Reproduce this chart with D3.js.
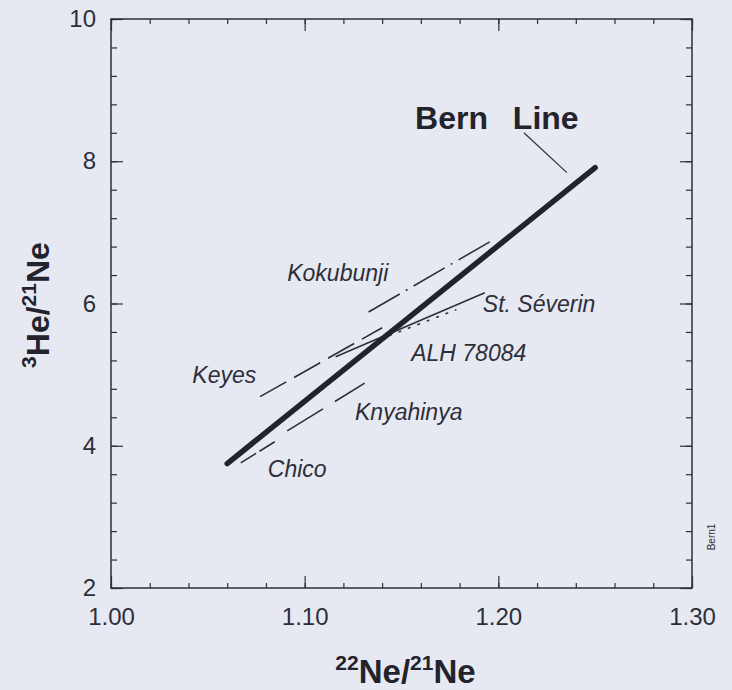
<!DOCTYPE html>
<html>
<head>
<meta charset="utf-8">
<script src="https://cdn.jsdelivr.net/npm/d3@7"></script>
<style>
  html, body { margin: 0; padding: 0; background: #e6e9f1; }
  svg { display: block; font-family: "Liberation Sans", Arial, Helvetica, sans-serif; }
  .frame { fill: none; stroke: #2e2e3a; stroke-width: 1.5; }
  .axis path { display: none; }
  .axis line { stroke: #2e2e3a; stroke-width: 1.2; }
  .axis text { fill: #2e2e3a; font-size: 24px; font-family: "Liberation Sans", Arial, sans-serif; }
  .track { fill: none; stroke: #2e2e3a; stroke-width: 1.6; }
  .name { fill: #2e2e3a; font-size: 23px; font-style: italic; }
</style>
</head>
<body>
<svg id="chart" width="732" height="690"></svg>
<script>
// axis ranges and ticks
const xDomain = [1.0, 1.3];
const yDomain = [2, 10];
const xMajor = [1.0, 1.1, 1.2, 1.3];
const xMinor = d3.range(0, 16).map(i => 1.0 + i * 0.02);
const yMajor = [2, 4, 6, 8, 10];
const yMinor = d3.range(0, 21).map(i => 2 + i * 0.4);

// Bern line (end points)
const bernX = [1.06, 1.25];
const bernY = [3.75, 7.91];

// meteorite trends: start and end points
const names = ["Kokubunji", "St. Séverin", "ALH 78084", "Keyes", "Knyahinya", "Chico"];
const startX = [1.133, 1.116, 1.139, 1.077, 1.091, 1.067];
const startY = [5.88, 5.25, 5.50, 4.69, 4.21, 3.76];
const endX = [1.197, 1.193, 1.178, 1.140, 1.131, 1.086];
const endY = [6.89, 6.15, 5.91, 5.66, 4.88, 4.08];

// label anchors (data units)
const labelX = [1.091, 1.192, 1.155, 1.042, 1.126, 1.081];
const labelY = [6.32, 5.88, 5.19, 4.88, 4.36, 3.56];

// line styles per meteorite
const dashes = {
  "Kokubunji": "36,7,2,7",
  "St. Séverin": null,
  "ALH 78084": "1.6,8.5",
  "Keyes": "30,9",
  "Knyahinya": "42,14",
  "Chico": "18,4"
};

const svg = d3.select("#chart");
const mLeft = 111, mRight = 692, mTop = 19, mBottom = 588;

const x = d3.scaleLinear().domain(xDomain).range([mLeft, mRight]);
const y = d3.scaleLinear().domain(yDomain).range([mBottom, mTop]);

// frame
svg.append("rect").attr("class", "frame")
  .attr("x", mLeft).attr("y", mTop)
  .attr("width", mRight - mLeft).attr("height", mBottom - mTop);

// inward ticks on all four sides
function ticks(axis, vals, size, g, labels, pad) {
  svg.append("g").attr("class", "axis").attr("transform", g)
    .call(axis.tickValues(vals).tickSizeInner(-size).tickSizeOuter(0)
      .tickPadding(pad || 0)
      .tickFormat(labels ? labels : ""));
}
ticks(d3.axisBottom(x), xMinor, 5, `translate(0,${mBottom})`);
ticks(d3.axisBottom(x), xMajor, 12, `translate(0,${mBottom})`, d3.format(".2f"), 20);
ticks(d3.axisTop(x), xMinor, 5, `translate(0,${mTop})`);
ticks(d3.axisTop(x), xMajor, 12, `translate(0,${mTop})`);
ticks(d3.axisLeft(y), yMinor, 6, `translate(${mLeft},0)`);
ticks(d3.axisLeft(y), yMajor, 12, `translate(${mLeft},0)`, d3.format("d"), 15);
ticks(d3.axisRight(y), yMinor, 6, `translate(${mRight},0)`);
ticks(d3.axisRight(y), yMajor, 12, `translate(${mRight},0)`);

// meteorite trend lines
names.forEach((n, i) => {
  const ln = svg.append("line").attr("class", "track")
    .attr("x1", x(startX[i])).attr("y1", y(startY[i]))
    .attr("x2", x(endX[i])).attr("y2", y(endY[i]));
  if (dashes[n]) ln.attr("stroke-dasharray", dashes[n]);
  if (n === "ALH 78084") ln.attr("stroke-width", 2).attr("stroke-linecap", "round");
  svg.append("text").attr("class", "name")
    .attr("x", x(labelX[i])).attr("y", y(labelY[i]))
    .text(n);
});

// Bern line
svg.append("line")
  .attr("x1", x(bernX[0])).attr("y1", y(bernY[0]))
  .attr("x2", x(bernX[1])).attr("y2", y(bernY[1]))
  .attr("stroke", "#23232d").attr("stroke-width", 5.5)
  .attr("stroke-linecap", "round");

svg.append("text")
  .attr("x", x(1.157)).attr("y", y(8.456))
  .attr("fill", "#23232d").attr("font-size", 32).attr("font-weight", "bold")
  .attr("word-spacing", 16)
  .text("Bern Line");
svg.append("line")
  .attr("x1", x(1.2132)).attr("y1", y(8.40))
  .attr("x2", x(1.2354)).attr("y2", y(7.84))
  .attr("stroke", "#2e2e3a").attr("stroke-width", 1.2);

// axis titles
const xt = svg.append("text")
  .attr("x", (mLeft + mRight) / 2 + 4).attr("y", 683)
  .attr("text-anchor", "middle").attr("fill", "#23232d")
  .attr("font-size", 33).attr("font-weight", "bold");
xt.append("tspan").attr("font-size", 21).attr("dy", -13).text("22");
xt.append("tspan").attr("dy", 13).text("Ne/");
xt.append("tspan").attr("font-size", 21).attr("dy", -13).text("21");
xt.append("tspan").attr("dy", 13).text("Ne");

const yt = svg.append("text")
  .attr("transform", `translate(49,${(377 + 233) / 2}) rotate(-90)`)
  .attr("text-anchor", "middle").attr("fill", "#23232d")
  .attr("font-size", 32).attr("font-weight", "bold");
yt.append("tspan").attr("font-size", 21).attr("dy", -13).text("3");
yt.append("tspan").attr("dy", 13).text("He/");
yt.append("tspan").attr("font-size", 21).attr("dy", -13).text("21");
yt.append("tspan").attr("dy", 13).text("Ne");

// small figure code
svg.append("text")
  .attr("transform", "translate(715,537) rotate(-90)")
  .attr("text-anchor", "middle").attr("fill", "#2e2e3a")
  .attr("font-size", 10).text("Bern1");
</script>
</body>
</html>
